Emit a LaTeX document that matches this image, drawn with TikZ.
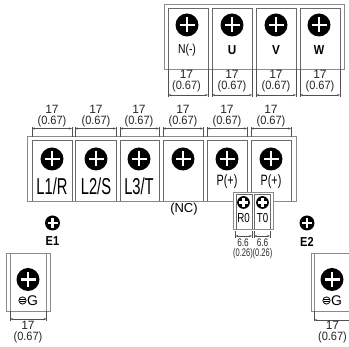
\documentclass[tikz,border=0pt]{standalone}
\usepackage{fontspec}
\usepackage{graphicx}
\setmainfont{Liberation Sans}
\usetikzlibrary{arrows.meta}
\definecolor{inkline}{HTML}{6A6A6A}
\definecolor{outerline}{HTML}{8A8A8A}
\definecolor{dimline}{HTML}{505050}
\newcommand{\sz}[2]{\fontsize{#1}{#2}\selectfont}
\tikzset{
  outerbox/.style={draw=outerline,line width=0.9pt,fill=white},
  innerbox/.style={draw=inkline,line width=0.9pt},
  screwhead/.style={circle,fill=black,inner sep=0pt},
  screwcross/.style={draw=white,line width=2.3pt},
  dimarrow/.style={draw=dimline,line width=0.6pt,{Stealth[length=3pt,width=2.2pt]}-{Stealth[length=3pt,width=2.2pt]}},
  dimext/.style={draw=dimline,line width=0.6pt},
  dimtext/.style={inner sep=0pt,align=center,text=black!85,font=\sz{12}{11}},
  smalldimtext/.style={inner sep=0pt,align=center,text=black!85,font=\sz{11}{10}},
  lab/.style={inner sep=0pt,text=black}
}
% name, x, y, radius, cross half length
\newcommand{\screw}[5]{%
  \node[screwhead,minimum size=#4*2pt] (#1) at (#2,#3) {};
  \draw[screwcross] (#2-#5,#3) -- (#2+#5,#3) (#2,#3-#5) -- (#2,#3+#5);
}
% name, x1, x2, ext top, ext bottom, line y, text x, text y
\newcommand{\dimspan}[8]{%
  \coordinate (#1a) at (#2,#6);
  \coordinate (#1b) at (#3,#6);
  \coordinate (#1at) at (#2,#4);
  \coordinate (#1ab) at (#2,#5);
  \coordinate (#1bt) at (#3,#4);
  \coordinate (#1bb) at (#3,#5);
  \draw[dimext] (#1at) -- (#1ab) (#1bt) -- (#1bb);
  \draw[dimarrow] (#1a) -- (#1b);
  \node[dimtext] (#1t) at (#7,#8) {17\\\scalebox{0.92}[1]{(0.67)}};
}
% small dimension
\newcommand{\smalldim}[5]{%
  \coordinate (#1a) at (#2,236);
  \coordinate (#1b) at (#3,236);
  \coordinate (#1at) at (#2,231);
  \coordinate (#1ab) at (#2,238);
  \coordinate (#1bt) at (#3,231);
  \coordinate (#1bb) at (#3,238);
  \draw[dimext] (#1at) -- (#1ab) (#1bt) -- (#1bb);
  \draw[dimarrow] (#1a) -- (#1b);
  \node[smalldimtext] (#1t) at (#4,#5) {\scalebox{0.75}[1]{6.6}\\\scalebox{0.68}[1]{(0.26)}};
}
\newcommand{\groundlabel}[3]{%
  \node[lab] (#1) at (#2+4.5,#3) {\sz{14}{14}G};
  \coordinate (#1c) at (#2-5.5,#3);
  \draw[black,line width=0.8pt] (#1c) circle (3.6);
  \draw[black,line width=0.8pt] (#2-9.1,#3-0.6) -- (#2-1.9,#3-0.6) (#2-8.3,#3+1.2) -- (#2-2.7,#3+1.2);
}
\begin{document}
\begin{tikzpicture}[x=1pt,y=-1pt]
\useasboundingbox (0,0) rectangle (349,347);
\clip (0,0) rectangle (349,347);
\fill[white] (0,0) rectangle (349,347);

% top terminal block
\node[outerbox,minimum width=180pt,minimum height=65pt,inner sep=0pt] (topblock) at (254,36.5) {};
\foreach \n/\xa/\xb/\cx/\tx in {N/168/208/187/{\scalebox{0.8}[1]{\sz{13}{13}N(-)}},U/212/252/232/{\scalebox{0.9}[1]{\sz{13}{13}\bfseries U}},V/256/296/276/{\scalebox{0.9}[1]{\sz{13}{13}\bfseries V}},W/300/340/319/{\scalebox{0.85}[1]{\sz{13}{13}\bfseries W}}}{
  \draw[innerbox] (\xa,69) -- (\xa,8) -- (\xb,8) -- (\xb,69);
  \screw{s\n}{\cx}{25}{11.5}{7.5}
  \node[lab] (l\n) at (\cx,50) {\tx};
}
\dimspan{dN}{168}{208}{69}{97}{95}{186.5}{81.5}
\dimspan{dU}{212}{252}{69}{97}{95}{232}{81.5}
\dimspan{dV}{256}{296}{69}{97}{95}{276}{81.5}
\dimspan{dW}{300}{340}{69}{97}{95}{320}{81.5}

% main terminal block
\node[outerbox,minimum width=269pt,minimum height=65pt,inner sep=0pt] (mainblock) at (161.5,168.5) {};
\foreach \n/\xa/\xb/\cx in {A/32/72/52,B/75/116/96,C/120/159/139,D/163/203/183,E/207/247/227,F/251/291/271}{
  \draw[innerbox] (\xa,201) -- (\xa,140) -- (\xb,140) -- (\xb,201);
  \screw{m\n}{\cx}{159}{11.5}{7.5}
}
\foreach \n/\xa/\xb/\cx in {A/32/72/52,B/75/116/96,C/120/159/139,D/163/203/183,E/207/247/227,F/251/291/271}{
  \dimspan{e\n}{\xa}{\xb}{127}{137}{128.5}{\cx}{116.5}
}
\node[lab] (lL1) at (52,186) {\scalebox{0.64}[1]{\sz{23}{23}L1/R}};
\node[lab] (lL2) at (96,186) {\scalebox{0.64}[1]{\sz{23}{23}L2/S}};
\node[lab] (lL3) at (139,186) {\scalebox{0.64}[1]{\sz{23}{23}L3/T}};
\node[lab] (lP1) at (227,182) {\scalebox{0.72}[1]{\sz{15}{15}P(+)}};
\node[lab] (lP2) at (271,182) {\scalebox{0.72}[1]{\sz{15}{15}P(+)}};
\node[lab] (lNC) at (184,209) {\sz{13}{13}(NC)};

% control block
\node[outerbox,minimum width=40pt,minimum height=37pt,inner sep=0pt] (ctrlblock) at (253,210.5) {};
\draw[innerbox] (236,229) -- (236,194) -- (252,194) -- (252,229);
\draw[innerbox] (254,229) -- (254,194) -- (270,194) -- (270,229);
\screw{sR}{243.5}{202.5}{6.4}{4.4}
\screw{sT}{262.5}{202.5}{6.4}{4.4}
\node[lab] (lR) at (243.5,218) {\scalebox{0.75}[1]{\sz{13}{12}R0}};
\node[lab] (lT) at (262.5,218) {\scalebox{0.75}[1]{\sz{13}{12}T0}};
\smalldim{dR}{235.5}{252}{243}{249}
\smalldim{dT}{254}{270}{262.5}{249}

% earth screws
\screw{sE1}{52.5}{223}{7.5}{5}
\node[lab] (lE1) at (52.5,241) {\scalebox{0.85}[1]{\sz{13}{12}\bfseries E1}};
\screw{sE2}{307}{223}{7.5}{5}
\node[lab] (lE2) at (307,242) {\scalebox{0.85}[1]{\sz{13}{12}\bfseries E2}};

% left ground terminal
\node[outerbox,minimum width=44pt,minimum height=58pt,inner sep=0pt] (gndL) at (28,282) {};
\draw[innerbox,draw=outerline] (10,253) -- (10,311) (46,253) -- (46,311);
\screw{sGL}{28}{279.5}{11.5}{7.5}
\groundlabel{lGL}{28}{300.5}
\dimspan{dGL}{10}{46.5}{311}{321}{319}{28}{332}

% right ground terminal
\node[outerbox,minimum width=60pt,minimum height=58pt,inner sep=0pt] (gndR) at (341,282) {};
\draw[innerbox,draw=outerline] (314,253) -- (314,311);
\screw{sGR}{332}{279.5}{11.5}{7.5}
\groundlabel{lGR}{332}{300.5}
\dimspan{dGR}{314}{352}{311}{321}{320}{332.5}{332}
\end{tikzpicture}
\end{document}
